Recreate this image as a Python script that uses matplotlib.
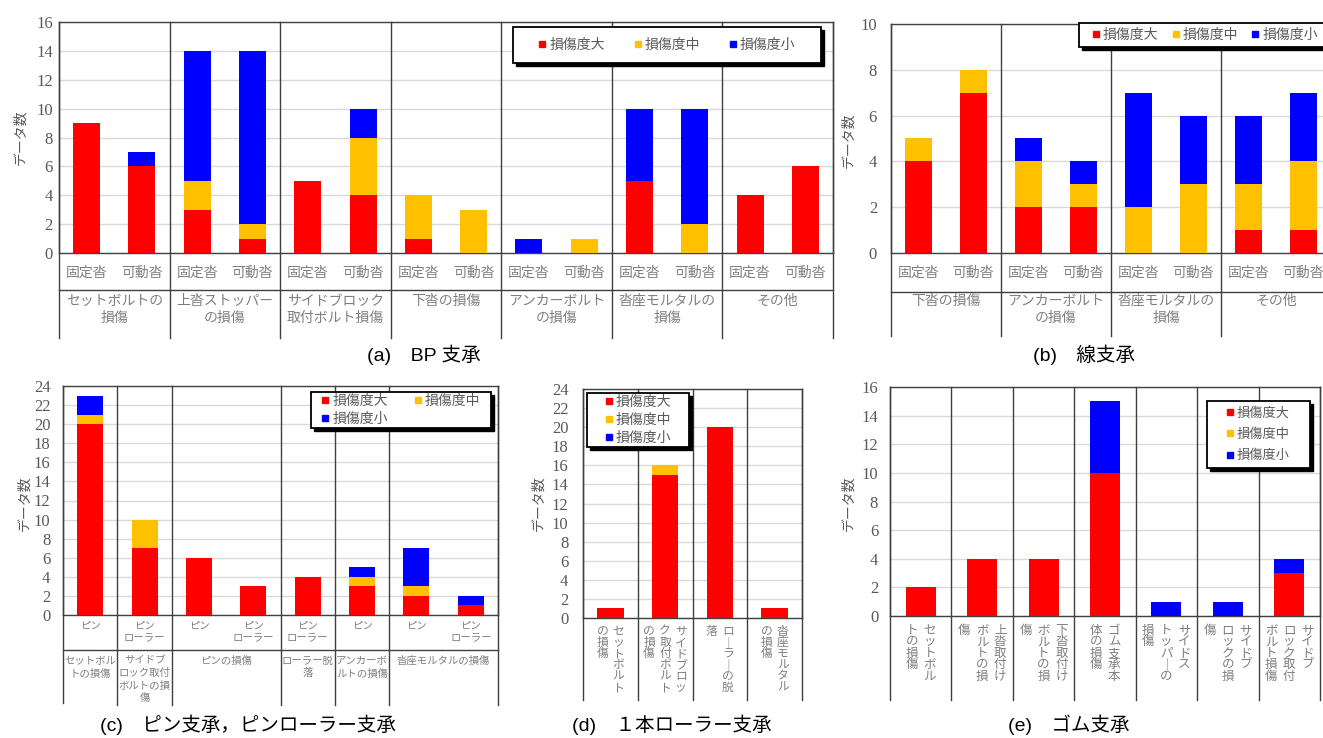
import matplotlib
matplotlib.use('Agg')
import matplotlib.pyplot as plt
from matplotlib.lines import Line2D
from matplotlib.patches import Rectangle
from matplotlib.transforms import blended_transform_factory
import numpy as np

plt.rcParams['font.family'] = ['Noto Sans CJK JP', 'DejaVu Sans']

W, H = 1323, 738
RED, ORANGE, BLUE = '#FF0000', '#FFC000', '#0000FF'
GRAY = '#7F7F7F'
DARK = '#595959'
series_names = ['損傷度大', '損傷度中', '損傷度小']

# ---------------- data ----------------
# (a) BP bearing
a_groups = ['セットボルトの\n損傷', '上沓ストッパー\nの損傷', 'サイドブロック\n取付ボルト損傷',
            '下沓の損傷', 'アンカーボルト\nの損傷', '沓座モルタルの\n損傷', 'その他']
a_bars = ['固定沓', '可動沓'] * 7
a_large = [9, 6, 3, 1, 5, 4, 1, 0, 0, 0, 5, 0, 4, 6]
a_mid = [0, 0, 2, 1, 0, 4, 3, 3, 0, 1, 0, 2, 0, 0]
a_small = [0, 1, 9, 12, 0, 2, 0, 0, 1, 0, 5, 8, 0, 0]

# (b) line bearing
b_groups = ['下沓の損傷', 'アンカーボルト\nの損傷', '沓座モルタルの\n損傷', 'その他']
b_bars = ['固定沓', '可動沓'] * 4
b_large = [4, 7, 2, 2, 0, 0, 1, 1]
b_mid = [1, 1, 2, 1, 2, 3, 2, 3]
b_small = [0, 0, 1, 1, 5, 3, 3, 3]

# (c) pin / pin-roller bearing
c_bars = ['ピン', 'ピン\nローラー', 'ピン', 'ピン\nローラー', 'ピン\nローラー', 'ピン', 'ピン', 'ピン\nローラー']
c_groups = ['セットボル\nトの損傷', 'サイドブ\nロック取付\nボルトの損\n傷', 'ピンの損傷',
            'ローラー脱\n落', 'アンカーボ\nルトの損傷', '沓座モルタルの損傷']
c_group_sizes = [1, 1, 2, 1, 1, 2]
c_large = [20, 7, 6, 3, 4, 3, 2, 1]
c_mid = [1, 3, 0, 0, 0, 1, 1, 0]
c_small = [2, 0, 0, 0, 0, 1, 4, 1]

# (d) single roller bearing
d_labels = ['セットボルト\nの損傷', 'サイドブロッ\nク取付ボルト\nの損傷', 'ローラーの脱\n落', '沓座モルタル\nの損傷']
d_large = [1, 15, 20, 1]
d_mid = [0, 1, 0, 0]
d_small = [0, 0, 0, 0]

# (e) rubber bearing
e_labels = ['セットボル\nトの損傷', '上沓取付け\nボルトの損\n傷', '下沓取付け\nボルトの損\n傷',
            'ゴム支承本\n体の損傷', 'サイドス\nトッパーの\n損傷', 'サイドブ\nロックの損\n傷',
            'サイドブ\nロック取付\nボルト損傷']
e_large = [2, 4, 4, 10, 0, 0, 3]
e_mid = [0, 0, 0, 0, 0, 0, 0]
e_small = [0, 0, 0, 5, 1, 1, 1]

fig = plt.figure(figsize=(W / 100, H / 100), dpi=100)
fig.patch.set_facecolor('white')


def make_panel(l, t, r, b, large, mid, small, ymax, pad_pt, width=0.49, tfs=12):
    ax = fig.add_axes([l / W, 1 - b / H, (r - l) / W, (b - t) / H])
    n = len(large)
    x = np.arange(n)
    L, M, S = np.array(large), np.array(mid), np.array(small)
    ax.bar(x, L, width, color=RED, zorder=3, linewidth=0)
    ax.bar(x, M, width, bottom=L, color=ORANGE, zorder=3, linewidth=0)
    ax.bar(x, S, width, bottom=L + M, color=BLUE, zorder=3, linewidth=0)
    ax.set_xlim(-0.5, n - 0.5)
    ax.set_ylim(0, ymax)
    ax.set_yticks(np.arange(0, ymax + 1, 2))
    ax.set_xticks([])
    ax.grid(axis='y', color='#D9D9D9', lw=1, zorder=0)
    ax.set_axisbelow(True)
    for sp in ax.spines.values():
        sp.set_color('#404040')
        sp.set_linewidth(1)
    ax.tick_params(axis='y', length=0, pad=pad_pt, labelsize=tfs, labelcolor=DARK)
    for lab in ax.get_yticklabels():
        lab.set_fontfamily('Liberation Serif')
    trans = blended_transform_factory(ax.transData, ax.transAxes)
    fy = lambda ypix: (b - ypix) / (b - t)
    return ax, trans, fy


def vline(ax, xd, fy_bottom, top=1.0):
    ax.axvline(xd, ymin=fy_bottom, ymax=top, color='#404040', lw=1, clip_on=False, zorder=2)


def hline(ax, yf):
    ax.plot([0, 1], [yf, yf], transform=ax.transAxes, color='#404040', lw=1, clip_on=False)


def legend_box(l, t, r, b, ncol, order, fs, colsp, labsp, cx=None):
    fig.add_artist(Rectangle(((l + 3) / W, 1 - (b + 3) / H), (r - l) / W, (b - t) / H,
                             transform=fig.transFigure, facecolor='black', edgecolor='black', zorder=10))
    fig.add_artist(Rectangle((l / W, 1 - b / H), (r - l) / W, (b - t) / H,
                             transform=fig.transFigure, facecolor='white', edgecolor='black',
                             lw=1.3, zorder=11))
    cols = [RED, ORANGE, BLUE]
    handles = [Line2D([], [], marker='s', ls='none', color=cols[i], markersize=4.5) for i in order]
    labels = [series_names[i] for i in order]
    if cx is None:
        cx = (l + r) / 2
    leg = fig.legend(handles, labels, loc='center', bbox_to_anchor=(cx / W, 1 - (t + b) / 2 / H),
                     ncol=ncol, frameon=False, fontsize=fs, columnspacing=colsp,
                     labelspacing=labsp, handlelength=0.5, handletextpad=0.25, borderpad=0,
                     labelcolor=DARK)
    leg.set_zorder(12)


def vertical_label(ax, trans, xc, text, yf, colsp_data, fs, ls):
    cols = text.split('\n')
    n = len(cols)
    for i, col in enumerate(cols):
        off = ((n - 1) / 2 - i) * colsp_data
        s = '\n'.join('｜' if ch == 'ー' else ch for ch in col)
        ax.text(xc + off, yf, s, transform=trans, ha='center', va='top', fontsize=fs,
                color=GRAY, linespacing=ls, clip_on=False)


# ---------------- (a) ----------------
l, t, r, b = 59, 22, 833, 253
ax, tr, fy = make_panel(l, t, r, b, a_large, a_mid, a_small, 16, 4.5)
for i, lab in enumerate(a_bars):
    ax.text(i, fy(273), lab, transform=tr, ha='center', va='center', fontsize=10, color=GRAY)
for g, lab in enumerate(a_groups):
    ax.text(2 * g + 0.5, fy(294), lab, transform=tr, ha='center', va='top', fontsize=10,
            color=GRAY, linespacing=1.25)
hline(ax, fy(290))
for k in range(len(a_groups) + 1):
    vline(ax, 2 * k - 0.5, fy(338))
legend_box(513, 27, 821, 63, 3, [0, 1, 2], 10, 2.1, 0.3)
fig.text(20 / W, 1 - 137 / H, 'データ数', rotation=90, ha='center', va='center', fontsize=10, color=DARK)
fig.text(367 / W, 1 - 355 / H, '(a)\u3000BP 支承', ha='left', va='center', fontsize=14,
         family=['Liberation Sans', 'Noto Sans CJK JP'])

# ---------------- (b) ----------------
l, t, r, b = 891, 24, 1331, 253
ax, tr, fy = make_panel(l, t, r, b, b_large, b_mid, b_small, 10, 10)
for i, lab in enumerate(b_bars):
    ax.text(i, fy(273), lab, transform=tr, ha='center', va='center', fontsize=10, color=GRAY)
for g, lab in enumerate(b_groups):
    ax.text(2 * g + 0.5, fy(294), lab, transform=tr, ha='center', va='top', fontsize=10,
            color=GRAY, linespacing=1.25)
hline(ax, fy(292))
for k in range(len(b_groups) + 1):
    vline(ax, 2 * k - 0.5, fy(336))
legend_box(1079, 23, 1345, 47, 3, [0, 1, 2], 10, 1.0, 0.3, cx=1205)
fig.text(848 / W, 1 - 140 / H, 'データ数', rotation=90, ha='center', va='center', fontsize=10, color=DARK)
fig.text(1033 / W, 1 - 355 / H, '(b)\u3000線支承', ha='left', va='center', fontsize=14,
         family=['Liberation Sans', 'Noto Sans CJK JP'])

# ---------------- (c) ----------------
l, t, r, b = 63, 386, 498, 615
ax, tr, fy = make_panel(l, t, r, b, c_large, c_mid, c_small, 24, 9, width=0.48)
for i, lab in enumerate(c_bars):
    ax.text(i, fy(621), lab, transform=tr, ha='center', va='top', fontsize=7.5, color=GRAY,
            linespacing=1.3)
hline(ax, fy(650))
start = 0
vline(ax, -0.5, fy(703))
for g, (lab, sz) in enumerate(zip(c_groups, c_group_sizes)):
    ax.text(start + (sz - 1) / 2, fy(656), lab, transform=tr, ha='center', va='top', fontsize=7.5,
            color=GRAY, linespacing=1.3)
    start += sz
    vline(ax, start - 0.5, fy(705))
legend_box(311, 392, 491, 428, 2, [0, 2, 1], 10, 1.9, 0.3)
fig.text(24 / W, 1 - 503 / H, 'データ数', rotation=90, ha='center', va='center', fontsize=10, color=DARK)
fig.text(100 / W, 1 - 725 / H, '(c)\u3000ピン支承，ピンローラー支承', ha='left', va='center', fontsize=14,
         family=['Liberation Sans', 'Noto Sans CJK JP'])

# ---------------- (d) ----------------
l, t, r, b = 583, 389, 802, 618
ax, tr, fy = make_panel(l, t, r, b, d_large, d_mid, d_small, 24, 10.5, width=0.48)
slot = (r - l) / len(d_large)
for i, lab in enumerate(d_labels):
    vertical_label(ax, tr, i, lab, fy(625), 16 / slot, 8.5, 0.82)
for k in range(len(d_labels) + 1):
    vline(ax, k - 0.5, fy(700))
legend_box(587, 393, 689, 447, 1, [0, 1, 2], 10, 1.0, 0.28)
fig.text(538 / W, 1 - 503 / H, 'データ数', rotation=90, ha='center', va='center', fontsize=10, color=DARK)
fig.text(572 / W, 1 - 725 / H, '(d)\u3000１本ローラー支承', ha='left', va='center', fontsize=14,
         family=['Liberation Sans', 'Noto Sans CJK JP'])

# ---------------- (e) ----------------
l, t, r, b = 890, 387, 1320, 616
ax, tr, fy = make_panel(l, t, r, b, e_large, e_mid, e_small, 16, 8.5, width=0.49)
slot = (r - l) / len(e_labels)
for i, lab in enumerate(e_labels):
    vertical_label(ax, tr, i, lab, fy(624), 18 / slot, 9, 0.84)
for k in range(len(e_labels) + 1):
    vline(ax, k - 0.5, fy(700))
legend_box(1207, 401, 1310, 468, 1, [0, 1, 2], 9.5, 1.0, 0.62)
fig.text(848 / W, 1 - 503 / H, 'データ数', rotation=90, ha='center', va='center', fontsize=10, color=DARK)
fig.text(1008 / W, 1 - 725 / H, '(e)\u3000ゴム支承', ha='left', va='center', fontsize=14,
         family=['Liberation Sans', 'Noto Sans CJK JP'])

fig.savefig('out.png', dpi=100)
